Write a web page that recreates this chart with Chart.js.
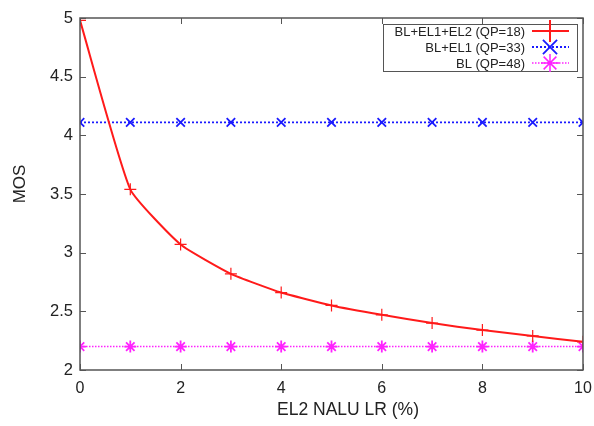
<!DOCTYPE html>
<html>
<head>
<meta charset="utf-8">
<script src="https://cdn.jsdelivr.net/npm/chart.js@4/dist/chart.umd.min.js"></script>
<style>
  html, body { margin: 0; padding: 0; background: #fff; }
  #wrap { width: 594px; height: 426px; }
</style>
</head>
<body>
<div id="wrap"><canvas id="mos-chart"></canvas></div>
<script>
const lossRates = [0, 1, 2, 3, 4, 5, 6, 7, 8, 9, 10];
const mosAllLayers = [4.98, 3.54, 3.07, 2.82, 2.66, 2.55, 2.47, 2.40, 2.34, 2.29, 2.24];
const mosBaseEl1 = [4.11, 4.11, 4.11, 4.11, 4.11, 4.11, 4.11, 4.11, 4.11, 4.11, 4.11];
const mosBaseOnly = [2.2, 2.2, 2.2, 2.2, 2.2, 2.2, 2.2, 2.2, 2.2, 2.2, 2.2];
const seriesNames = ['BL+EL1+EL2 (QP=18)', 'BL+EL1 (QP=33)', 'BL (QP=48)'];
const xTicks = [0, 2, 4, 6, 8, 10];
const yTicks = [2, 2.5, 3, 3.5, 4, 4.5, 5];
const xTitle = 'EL2 NALU LR (%)';
const yTitle = 'MOS';

const FONT = '"Liberation Sans", Arial, sans-serif';
const FRAME = '#555';
const TEXT = '#222';

const toPoints = (vals) => vals.map((v, i) => ({ x: lossRates[i], y: v }));

// gnuplot-like frame: full box with inward ticks on every side
const framePlugin = {
  id: 'frame',
  afterDatasetsDraw(chart) {
    const { ctx, chartArea: a, scales } = chart;
    ctx.save();
    ctx.strokeStyle = FRAME;
    ctx.lineWidth = 1.5;
    ctx.strokeRect(a.left, a.top, a.right - a.left, a.bottom - a.top);
    ctx.lineWidth = 1;
    const len = 6;
    ctx.beginPath();
    xTicks.forEach(v => {
      const px = Math.round(scales.x.getPixelForValue(v)) + 0.5;
      ctx.moveTo(px, a.bottom); ctx.lineTo(px, a.bottom - len);
      ctx.moveTo(px, a.top); ctx.lineTo(px, a.top + len);
    });
    yTicks.forEach(v => {
      const py = Math.round(scales.y.getPixelForValue(v)) + 0.5;
      ctx.moveTo(a.left, py); ctx.lineTo(a.left + len, py);
      ctx.moveTo(a.right, py); ctx.lineTo(a.right - len, py);
    });
    ctx.stroke();
    ctx.restore();
  }
};

// axis titles sit a little off-centre, so they are placed by hand
const titlesPlugin = {
  id: 'titles',
  afterDraw(chart) {
    const { ctx } = chart;
    ctx.save();
    ctx.fillStyle = TEXT;
    ctx.font = '17.5px ' + FONT;
    ctx.textAlign = 'center';
    ctx.textBaseline = 'middle';
    ctx.fillText(xTitle, 348, 410);
    ctx.translate(20, 184);
    ctx.rotate(-Math.PI / 2);
    ctx.font = '17px ' + FONT;
    ctx.fillText(yTitle, 0, 0);
    ctx.restore();
  }
};

// boxed key in the top-right corner, text right-aligned before the sample
const keyMarkerSize = [11, 10, 9];
const keyPlugin = {
  id: 'key',
  afterDraw(chart) {
    const { ctx } = chart;
    const box = { left: 383, top: 24, right: 577, bottom: 71 };
    ctx.save();
    ctx.fillStyle = '#fff';
    ctx.fillRect(box.left, box.top, box.right - box.left, box.bottom - box.top);
    ctx.strokeStyle = FRAME;
    ctx.lineWidth = 1;
    ctx.strokeRect(box.left + 0.5, box.top + 0.5, box.right - box.left, box.bottom - box.top);
    ctx.font = '13px ' + FONT;
    ctx.textAlign = 'right';
    ctx.textBaseline = 'middle';
    chart.data.datasets.forEach((ds, i) => {
      const y = box.top + 7 + i * 16;
      ctx.fillStyle = TEXT;
      ctx.fillText(ds.label, 525, y + 1);
      ctx.strokeStyle = ds.borderColor;
      ctx.lineWidth = ds.borderWidth;
      ctx.setLineDash(ds.borderDash || []);
      ctx.beginPath();
      ctx.moveTo(532, y); ctx.lineTo(569, y);
      ctx.stroke();
      ctx.setLineDash([]);
      Chart.helpers.drawPoint(ctx, {
        pointStyle: ds.pointStyle,
        radius: keyMarkerSize[i],
        borderWidth: ds.pointBorderWidth
      }, 550, y);
    });
    ctx.restore();
  }
};

new Chart(document.getElementById('mos-chart'), {
  type: 'line',
  data: {
    datasets: [
      {
        label: seriesNames[0],
        data: toPoints(mosAllLayers),
        borderColor: '#ff1a1a',
        backgroundColor: '#ff1a1a',
        borderWidth: 2,
        pointStyle: 'cross',
        pointRadius: 6,
        pointBorderWidth: 1.2,
        tension: 0.15
      },
      {
        label: seriesNames[1],
        data: toPoints(mosBaseEl1),
        borderColor: '#1a1aff',
        backgroundColor: '#1a1aff',
        borderWidth: 1.8,
        borderDash: [2, 2],
        pointStyle: 'crossRot',
        pointRadius: 6,
        pointBorderWidth: 1.8
      },
      {
        label: seriesNames[2],
        data: toPoints(mosBaseOnly),
        borderColor: '#ff22ff',
        backgroundColor: '#ff22ff',
        borderWidth: 1.5,
        borderDash: [1.5, 1.5],
        pointStyle: 'star',
        pointRadius: 6,
        pointBorderWidth: 1.8
      }
    ]
  },
  options: {
    responsive: true,
    maintainAspectRatio: false,
    animation: false,
    layout: { padding: { top: 18, right: 11, left: 0, bottom: 0 } },
    plugins: {
      legend: { display: false },
      tooltip: { enabled: false }
    },
    scales: {
      x: {
        type: 'linear',
        min: 0,
        max: 10,
        afterBuildTicks: (s) => { s.ticks = xTicks.map(v => ({ value: v })); },
        afterFit: (s) => { s.height = 56; s.paddingRight = 0; s.paddingLeft = 0; },
        grid: { display: false, drawTicks: false },
        border: { display: false },
        ticks: { color: TEXT, font: { family: FONT, size: 16 }, padding: 9, maxRotation: 0 }
      },
      y: {
        min: 2,
        max: 5,
        afterBuildTicks: (s) => { s.ticks = yTicks.map(v => ({ value: v })); },
        afterFit: (s) => { s.width = 80; s.paddingTop = 0; s.paddingBottom = 0; },
        grid: { display: false, drawTicks: false },
        border: { display: false },
        ticks: { color: TEXT, font: { family: FONT, size: 16.5 }, padding: 7, callback: (v) => String(v) }
      }
    }
  },
  plugins: [framePlugin, titlesPlugin, keyPlugin]
});
</script>
</body>
</html>
